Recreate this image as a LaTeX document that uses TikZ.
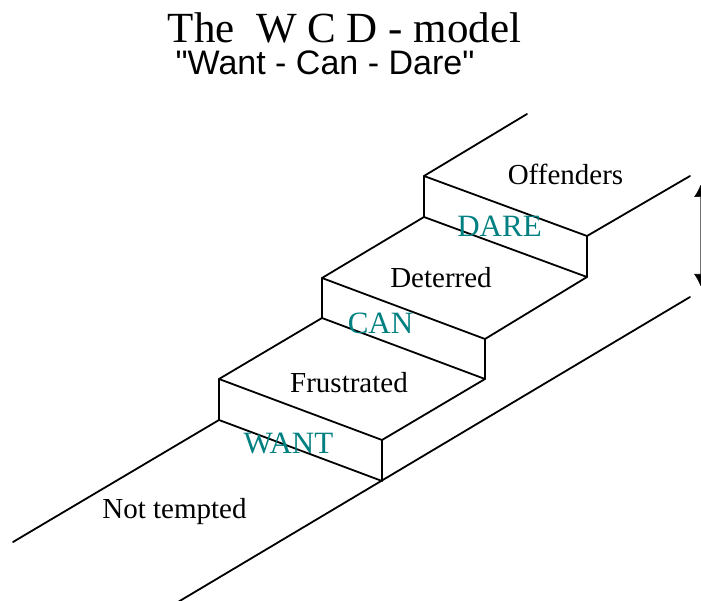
\documentclass[tikz,border=0pt]{standalone}
\usepackage{fontspec}
\setmainfont{Liberation Serif}
\newfontfamily\helv{Liberation Sans}
\usetikzlibrary{arrows.meta}
\definecolor{tealtxt}{RGB}{0,128,128}
\tikzset{
  edge/.style={line width=1.8pt, line cap=round, line join=round},
  lbl/.style={anchor=base, inner sep=0pt, font=\fontsize{29}{34}\selectfont},
  tlbl/.style={anchor=base, inner sep=0pt, text=tealtxt, font=\fontsize{31}{36}\selectfont},
}
\begin{document}
\begin{tikzpicture}[x=1pt,y=-1pt]
\useasboundingbox (0,0) rectangle (701,601);
\clip (0,0) rectangle (701,601);
% corners
\coordinate (A) at (13,542);
\coordinate (B) at (219,420);
\coordinate (C) at (219,379);
\coordinate (D) at (322,318);
\coordinate (E) at (322,278);
\coordinate (F) at (424,217);
\coordinate (G) at (424,176);
\coordinate (H) at (527,114);
\coordinate (R0) at (178,602);
\coordinate (B2) at (382,481);
\coordinate (C2) at (382,440);
\coordinate (D2) at (485,379);
\coordinate (E2) at (485,339);
\coordinate (F2) at (587,277);
\coordinate (G2) at (587,236);
\coordinate (H2) at (690,176);
\coordinate (R1) at (690,297);
% staircase
\draw[edge] (A) -- (B) -- (C) -- (D) -- (E) -- (F) -- (G) -- (H);
\draw[edge] (B) -- (B2) -- (C2) -- (D2) -- (E2) -- (F2) -- (G2) -- (H2);
\draw[edge] (C) -- (C2);
\draw[edge] (D) -- (D2);
\draw[edge] (E) -- (E2);
\draw[edge] (F) -- (F2);
\draw[edge] (G) -- (G2);
\draw[edge] (R0) -- (R1);
% arrow
\coordinate (T1) at (700.5,185);
\coordinate (T2) at (700.5,286);
\draw[line width=0.6pt, draw=black!55, {Latex[length=12pt,width=13pt,black]}-{Latex[length=12pt,width=13pt,black]}] (T1) -- (T2);
% texts
\node[anchor=base, inner sep=0pt, font=\fontsize{43}{48}\selectfont] (title) at (344.5,43) {The\ \ W C D - model};
\node[anchor=base, inner sep=0pt, font=\helv\fontsize{34}{38}\selectfont] (sub) at (325,75) {"Want - Can - Dare"};
\node[lbl] (nt) at (174.5,518) {Not tempted};
\node[lbl] (fr) at (349,392) {Frustrated};
\node[lbl] (de) at (441,288) {Deterred};
\node[lbl] (of) at (565.5,185) {Offenders};
\node[tlbl] (want) at (288.5,453) {WANT};
\node[tlbl] (can) at (380.5,334) {CAN};
\node[tlbl] (dare) at (499.5,237) {DARE};
\end{tikzpicture}
\end{document}
